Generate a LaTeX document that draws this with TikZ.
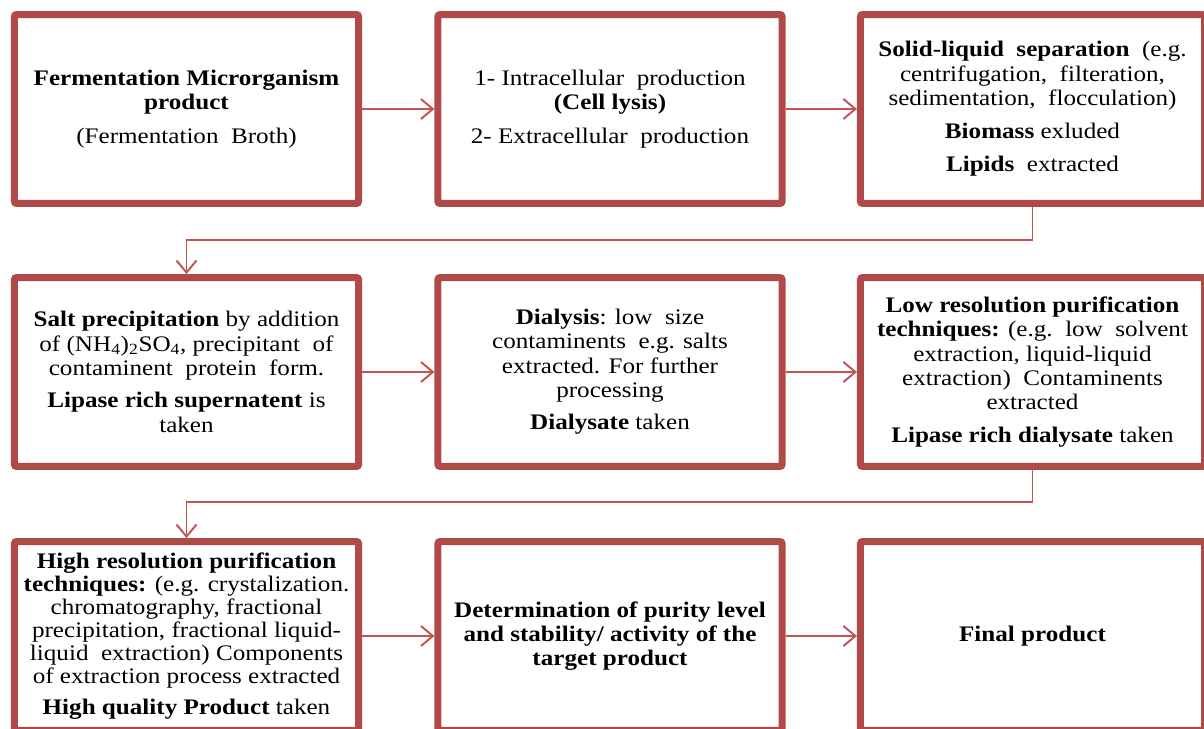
\documentclass[tikz,border=0pt]{standalone}
\usepackage{fontspec}
\setmainfont{Liberation Serif}[FakeStretch=1.13]
\usetikzlibrary{arrows.meta,positioning,calc,shadows}
\definecolor{boxred}{RGB}{176,74,72}
\definecolor{linkred}{RGB}{196,84,80}

\begin{document}
\begin{tikzpicture}[x=0.025cm,y=-0.025cm,
  stage/.style={draw=boxred,line width=5pt,fill=white,rounded corners=1.5pt,
    minimum width=8.6cm,minimum height=4.72cm,align=center,inner sep=0pt,
    font=\fontsize{15.8pt}{17.3pt}\selectfont,
    drop shadow={shadow xshift=0.5pt,shadow yshift=-2.5pt,opacity=0.3,fill=black!60}},
  flow/.style={linkred,line width=1.4pt,-{Straight Barb[length=0.3cm,width=0.5cm]}}]
\useasboundingbox (0,0) rectangle (1204,729);

% first row
\node[stage] (broth) at (186.5,109) {\textbf{Fermentation Microrganism}\\
  \textbf{product}\\[0.25cm]
  (Fermentation\ \ Broth)};
\node[stage] (lysis) at (610,109) {1- Intracellular\ \ production\\
  \textbf{(Cell lysis)}\\[0.25cm]
  2- Extracellular\ \ production};
\node[stage] (separation) at (1032.5,109) {\textbf{Solid-liquid\ \ separation}\ \ (e.g.\\
  centrifugation,\ \ filteration,\\
  sedimentation,\ \ flocculation)\\[0.22cm]
  \textbf{Biomass} exluded\\[0.22cm]
  \textbf{Lipids}\ \ extracted};

% second row
\node[stage] (salt) at (186.5,372) {\textbf{Salt precipitation} by addition\\
  of (NH\textsubscript{4})\textsubscript{2}SO\textsubscript{4}, precipitant\ \ of\\
  contaminent\ \ protein\ \ form.\\[0.2cm]
  \textbf{Lipase rich supernatent} is\\
  taken};
\node[stage] (dialysis) at (610,372) {\textbf{Dialysis}: low\ \ size\\
  contaminents\ \ e.g. salts\\
  extracted. For further\\
  processing\\[0.2cm]
  \textbf{Dialysate} taken};
\node[stage] (lowres) at (1032.5,372) {\textbf{Low resolution purification}\\
  \textbf{techniques:} (e.g.\ \ low\ \ solvent\\
  extraction, liquid-liquid\\
  extraction)\ \ Contaminents\\
  extracted\\[0.2cm]
  \textbf{Lipase rich dialysate} taken};

% third row
\node[stage,font=\fontsize{15.8pt}{16.4pt}\selectfont] (highres) at (186.5,636)
  {\textbf{High resolution purification}\\
  \textbf{techniques:} (e.g. crystalization.\\
  chromatography, fractional\\
  precipitation, fractional liquid-\\
  liquid\ \ extraction) Components\\
  of extraction process extracted\\[0.2cm]
  \textbf{High quality Product} taken};
\node[stage] (purity) at (610,636) {\textbf{Determination of purity level}\\
  \textbf{and stability/ activity of the}\\
  \textbf{target product}};
\node[stage] (final) at (1032.5,636) {\textbf{Final product}};

% connectors
\draw[flow] (broth) -- (lysis);
\draw[flow] (lysis) -- (separation);
\draw[flow] (separation.south) -- ++(0,33) -| (salt.north);
\draw[flow] (salt) -- (dialysis);
\draw[flow] (dialysis) -- (lowres);
\draw[flow] (lowres.south) -- ++(0,32) -| (highres.north);
\draw[flow] (highres) -- (purity);
\draw[flow] (purity) -- (final);
\end{tikzpicture}
\end{document}
